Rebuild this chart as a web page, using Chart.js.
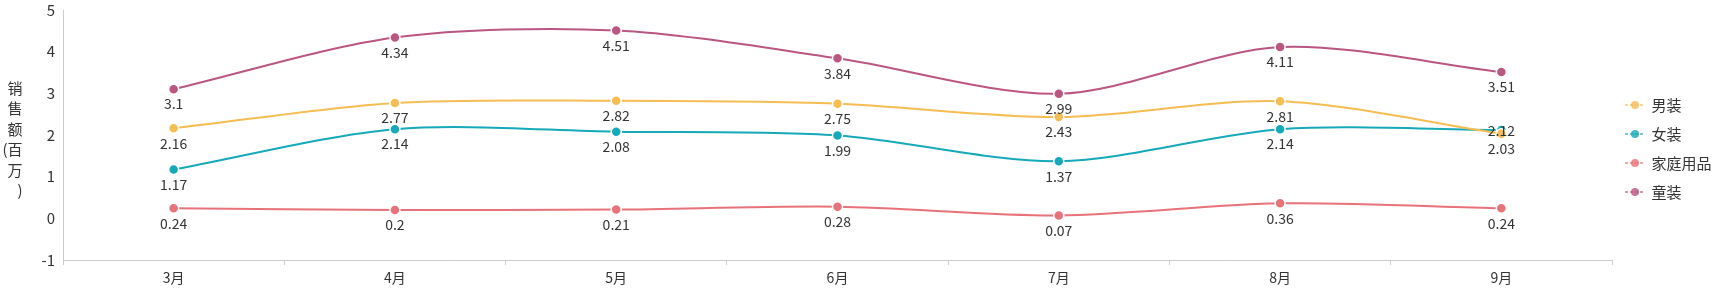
<!DOCTYPE html>
<html>
<head>
<meta charset="utf-8">
<script src="https://cdn.jsdelivr.net/npm/chart.js@4/dist/chart.umd.min.js"></script>
<style>
  html, body { margin: 0; padding: 0; background: #fff; }
  #wrap { width: 1712px; height: 297px; }
</style>
</head>
<body>
<div id="wrap"><canvas id="c" width="1712" height="297"></canvas></div>
<script>
/* 月度销售额折线图 (百万) */

const months = ['3月', '4月', '5月', '6月', '7月', '8月', '9月'];
const seriesNames = ['男装', '女装', '家庭用品', '童装'];
const menWear = [2.16, 2.77, 2.82, 2.75, 2.43, 2.81, 2.03];
const womenWear = [1.17, 2.14, 2.08, 1.99, 1.37, 2.14, 2.12];
const homeGoods = [0.24, 0.2, 0.21, 0.28, 0.07, 0.36, 0.24];
const kidsWear = [3.1, 4.34, 4.51, 3.84, 2.99, 4.11, 3.51];
const yTicks = [-1, 0, 1, 2, 3, 4, 5];
const yTitleLines = ['销', '售', '额', '(百', '万', ')'];

const COLORS = ['#f5bd52', '#15a9b9', '#e8727a', '#bb5683'];
const FONT = "'Microsoft YaHei', 'Noto Sans CJK SC', sans-serif";
const TEXT = '#333';

// legend marker: dashed line with a dot in the middle
function legendMarker(color) {
    const cv = document.createElement('canvas');
    cv.width = 20; cv.height = 10;
    const ctx = cv.getContext('2d');
    ctx.globalAlpha = 0.8;
    ctx.strokeStyle = color;
    ctx.lineWidth = 1.5;
    ctx.setLineDash([3, 2]);
    ctx.beginPath(); ctx.moveTo(0, 5); ctx.lineTo(20, 5); ctx.stroke();
    ctx.fillStyle = color;
    ctx.beginPath(); ctx.arc(10, 5, 4, 0, Math.PI * 2); ctx.fill();
    return cv;
}

// value labels under points, moved up when they collide
const valueLabels = {
    id: 'valueLabels',
    afterDatasetsDraw(chart) {
        const ctx = chart.ctx;
        ctx.save();
        ctx.font = '14px ' + FONT;
        ctx.fillStyle = TEXT;
        ctx.textAlign = 'center';
        ctx.textBaseline = 'middle';
        const placed = [];
        const h = 18;
        chart.data.datasets.forEach((ds, i) => {
            const meta = chart.getDatasetMeta(i);
            meta.data.forEach((pt, j) => {
                const txt = String(ds.data[j]);
                const w = ctx.measureText(txt).width;
                let y = pt.y + 15;
                for (const p of placed) {
                    if (Math.abs(p.x - pt.x) < (w + p.w) / 2 && Math.abs(p.y - y) < h) {
                        y = p.y - h;
                    }
                }
                placed.push({ x: pt.x, y, w });
                ctx.fillText(txt, pt.x, y);
            });
        });
        ctx.restore();
    },
};

// vertical y axis name, one glyph group per line
const yAxisName = {
    id: 'yAxisName',
    afterDraw(chart) {
        const ctx = chart.ctx;
        ctx.save();
        ctx.font = '15px ' + FONT;
        ctx.fillStyle = TEXT;
        ctx.textAlign = 'right';
        ctx.textBaseline = 'middle';
        yTitleLines.forEach((s, i) => ctx.fillText(s, 22.5, 88 + i * 20.5));
        ctx.restore();
    },
};

const seriesData = [menWear, womenWear, homeGoods, kidsWear];

new Chart(document.getElementById('c'), {
    type: 'line',
    data: {
        labels: months,
        datasets: seriesNames.map((name, i) => ({
            label: name,
            data: seriesData[i],
            borderColor: COLORS[i],
            backgroundColor: COLORS[i],
            pointBackgroundColor: COLORS[i],
            pointBorderColor: '#fff',
            pointBorderWidth: 1.5,
            pointRadius: 5,
            pointStyle: 'circle',
            borderWidth: 2,
            tension: 0.3,
            fill: false,
        })),
    },
    options: {
        responsive: false,
        animation: false,
        layout: { padding: 0 },
        plugins: {
            tooltip: { enabled: false },
            legend: {
                position: 'right',
                maxWidth: 100,
                labels: {
                    usePointStyle: true,
                    pointStyleWidth: 18,
                    padding: 14,
                    color: TEXT,
                    font: { size: 15, family: FONT },
                    generateLabels(chart) {
                        return chart.data.datasets.map((ds, i) => ({
                            text: ds.label,
                            pointStyle: legendMarker(COLORS[i]),
                            fillStyle: COLORS[i],
                            strokeStyle: COLORS[i],
                            lineWidth: 0,
                            fontColor: TEXT,
                            datasetIndex: i,
                        }));
                    },
                },
            },
        },
        scales: {
            x: {
                offset: true,
                afterFit: (s) => { s.height = 37; s.paddingLeft = 0; s.paddingRight = 0; },
                grid: { offset: true, drawOnChartArea: false, drawTicks: true, tickLength: 5, color: '#ccc' },
                border: { color: '#ccc', width: 1 },
                ticks: { color: TEXT, font: { size: 14, family: FONT }, padding: 4 },
            },
            y: {
                min: -1,
                max: 5,
                afterFit: (s) => { s.width = 63; s.paddingTop = 10; s.paddingBottom = 0; },
                afterBuildTicks: (s) => { s.ticks = yTicks.map((v) => ({ value: v })); },
                grid: { display: true, drawOnChartArea: false, drawTicks: false },
                border: { color: '#ccc', width: 1 },
                ticks: { color: TEXT, font: { size: 15, family: FONT }, padding: 8 },
            },
        },
    },
    plugins: [valueLabels, yAxisName],
});
</script>
</body>
</html>
